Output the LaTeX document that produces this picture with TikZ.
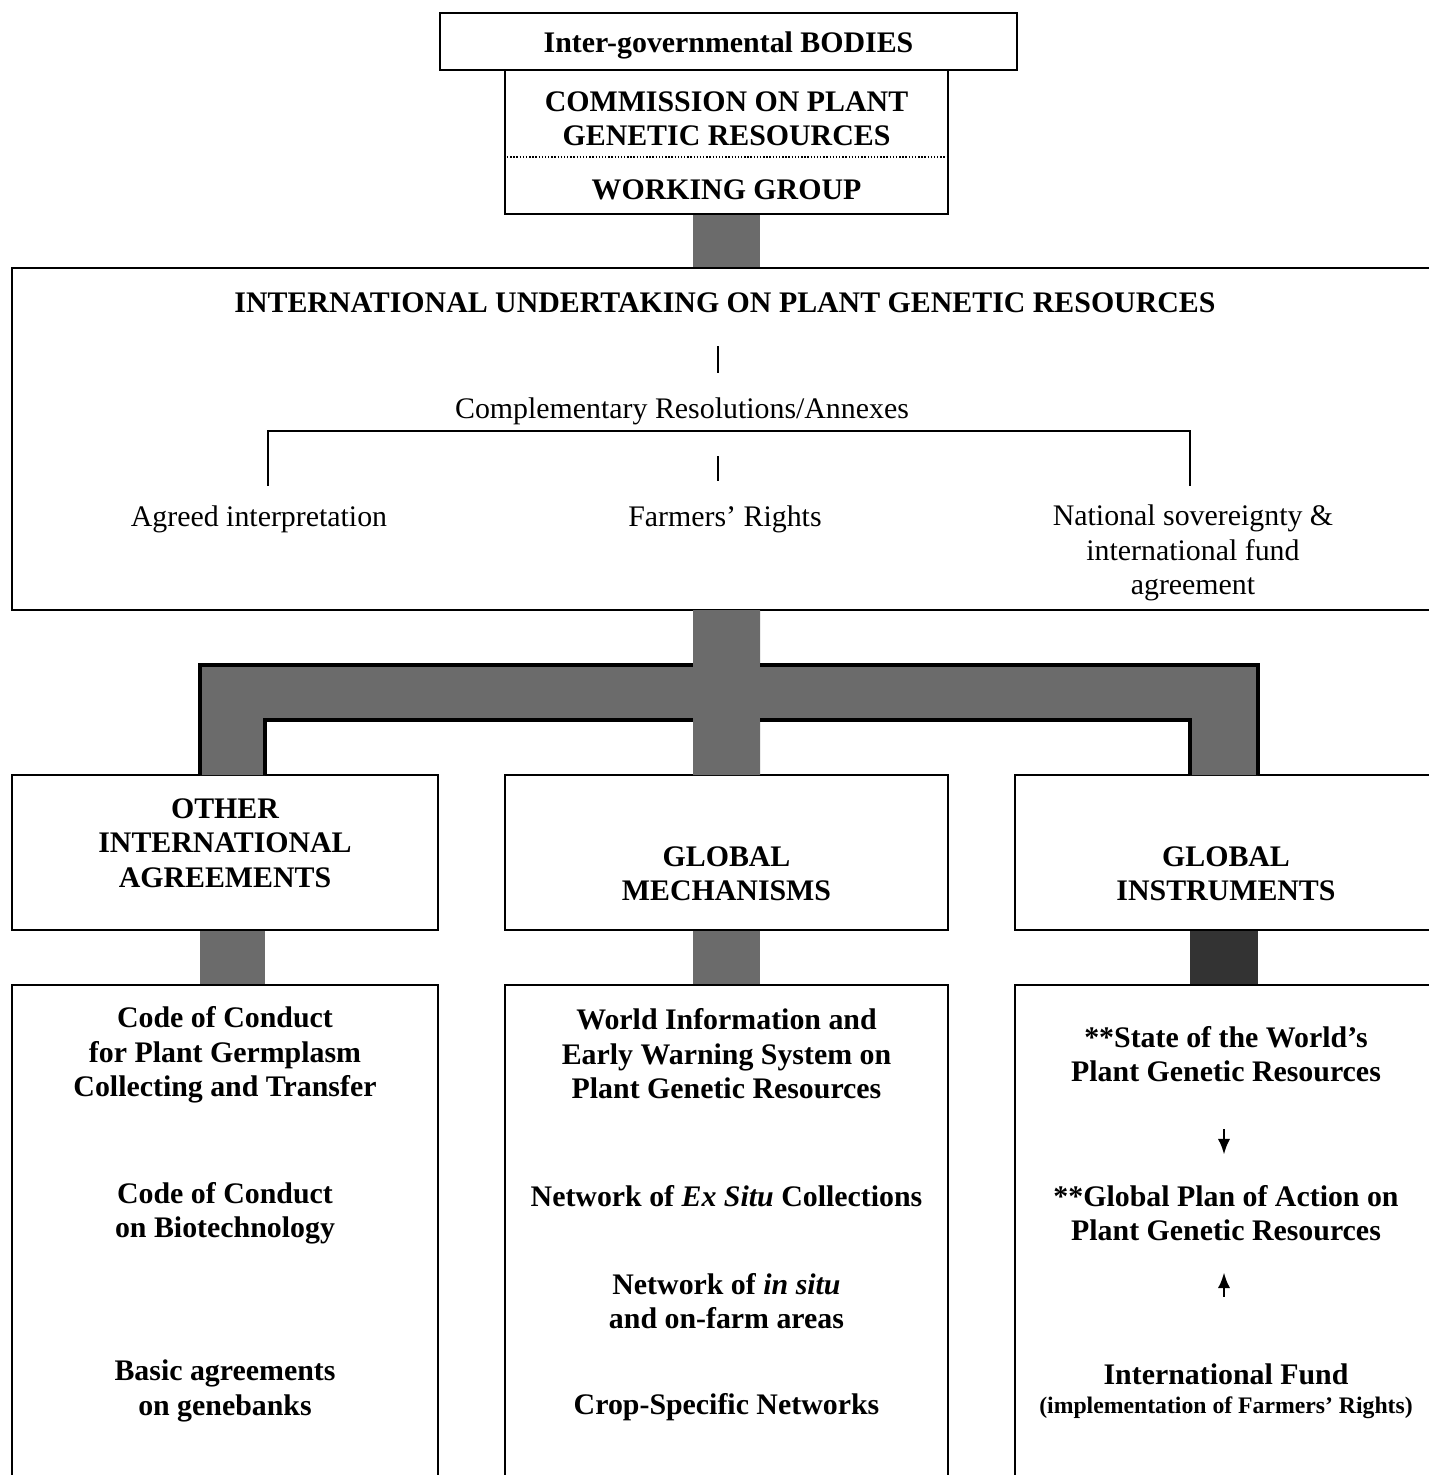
\documentclass[tikz,border=0pt]{standalone}
\usepackage{fontspec}
\setmainfont{Liberation Serif}
\usetikzlibrary{arrows.meta,positioning}

\tikzset{
  box/.style={draw, line width=1.4pt, inner sep=0pt},
  bold/.style={font=\fontsize{17}{19.6}\selectfont\bfseries, align=center, inner sep=0pt},
  plain/.style={font=\fontsize{17}{19.6}\selectfont, align=center, inner sep=0pt},
  small/.style={font=\fontsize{13.5}{16}\selectfont\bfseries, align=center, inner sep=0pt},
  link/.style={fill=black!58},
  tree/.style={line width=1.2pt},
  tip/.style={-{Latex[length=9pt,width=7pt]}, line width=1.6pt},
}

\begin{document}
\begin{tikzpicture}[x=0.02cm, y=-0.02cm]
    \useasboundingbox (0,0) rectangle (1429,1475);
    \clip (0,0) rectangle (1429,1475);

    % Draw the top boxes
    \node[box, minimum width=11.54cm, minimum height=1.14cm] (bodies) at (728.5,41.5) {};
    \node[bold] (bodiestxt) at (728.5,45) {Inter-governmental BODIES};
    \node[box, minimum width=8.86cm, minimum height=2.88cm] (commission) at (726.5,142) {};
    \draw[densely dotted, line width=0.8pt] (commission.west |- 0,157) -- (commission.east |- 0,157);
    \node[bold] (cpgr) at (726.5,119) {COMMISSION ON PLANT\\GENETIC RESOURCES};
    \node[bold] (wg) at (726.5,190) {WORKING GROUP};

    % Draw the undertaking box
    \node[box, minimum width=28.96cm, minimum height=6.84cm] (undertaking) at (736,439) {};
    \fill[link] ([xshift=-0.67cm]commission.south) rectangle ([xshift=0.67cm]undertaking.north -| commission.south);

    \node[bold] (title) at (725,303) {INTERNATIONAL UNDERTAKING ON PLANT GENETIC RESOURCES};
    \node[plain] (compl) at (682,411) {Complementary Resolutions/Annexes};
    \node[plain] (agreed) at (259,519) {Agreed interpretation};
    \node[plain] (farmers) at (725,519) {Farmers' Rights};
    \node[plain] (national) at (1193,553) {National sovereignty \&\\international fund\\agreement};

    % Draw the annex bracket
    \coordinate (fork) at (718,431);
    \coordinate (brL) at (268,431);
    \coordinate (brR) at (1190,431);
    \draw[tree, shorten <=0.66cm, shorten >=0.49cm] (title.south -| fork) -- (compl.north -| fork);
    \draw[tree, shorten <=0.63cm, shorten >=0.49cm] (compl.south -| fork) -- (farmers.north -| fork);
    \draw[tree] ([yshift=0.39cm]brL |- agreed.north) -- (brL) -- (brR) -- ([yshift=0.38cm]brR |- national.north);

    % Draw the second row
    \node[box, minimum width=8.52cm, minimum height=3.1cm] (other) at (225,852.5) {};
    \node[box, minimum width=8.86cm, minimum height=3.1cm] (mech) at (726.5,852.5) {};
    \node[box, minimum width=8.9cm, minimum height=3.1cm] (instr) at (1237.5,852.5) {};
    \node[bold] (othertxt) at (225,843) {OTHER\\INTERNATIONAL\\AGREEMENTS};
    \node[bold] (mechtxt) at (726.5,874) {GLOBAL\\MECHANISMS};
    \node[bold] (instrtxt) at (1226,874) {GLOBAL\\INSTRUMENTS};

    % Draw the shaded distributor
    \fill[link] (200,775) -- (200,665) -- (693,665) -- (693,610) -- (760,610) -- (760,665)
        -- (1258,665) -- (1258,775) -- (1190,775) -- (1190,720) -- (760,720) -- (760,775)
        -- (693,775) -- (693,720) -- (265,720) -- (265,775) -- cycle;
    \draw[line width=2pt] (200,775) -- (200,665) -- (693,665);
    \draw[line width=2pt] (760,665) -- (1258,665) -- (1258,775);
    \draw[line width=2pt] (265,775) -- (265,720) -- (693,720);
    \draw[line width=2pt] (760,720) -- (1190,720) -- (1190,775);

    % Draw the third row
    \node[box, minimum width=8.52cm, minimum height=10.3cm] (codes) at (225,1242.5) {};
    \node[box, minimum width=8.86cm, minimum height=10.3cm] (systems) at (726.5,1242.5) {};
    \node[box, minimum width=8.9cm, minimum height=10.3cm] (plans) at (1237.5,1242.5) {};

    \fill[link] (other.south -| 200,0) rectangle (codes.north -| 265,0);
    \fill[link] (mech.south -| 693,0) rectangle (systems.north -| 760,0);
    \fill[link, fill=black!80] (instr.south -| 1190,0) rectangle (plans.north -| 1258,0);

    \node[bold] (germ) at (225,1055) {Code of Conduct\\for Plant Germplasm\\Collecting and Transfer};
    \node[bold] (biotech) at (225,1213) {Code of Conduct\\on Biotechnology};
    \node[bold] (genebanks) at (225,1391) {Basic agreements\\on genebanks};

    \node[bold] (wiews) at (726.5,1054) {World Information and\\Early Warning System on\\Plant Genetic Resources};
    \node[bold] (exsitu) at (726.5,1196) {Network of \textit{Ex Situ} Collections};
    \node[bold] (insitu) at (726.5,1301) {Network of \textit{in situ}\\and on-farm areas};
    \node[bold] (crops) at (726.5,1407) {Crop-Specific Networks};

    \node[bold] (state) at (1226,1054) {**State of the World's\\Plant Genetic Resources};
    \node[bold] (gplan) at (1226,1213) {**Global Plan of Action on\\Plant Genetic Resources};
    \node[bold] (fund) at (1226,1374) {International Fund};
    \node[small] (impl) at (1226,1408) {(implementation of Farmers' Rights)};

    % Draw the small arrows
    \draw[tip, shorten <=0.94cm, shorten >=0.6cm] (state.south -| 1224,0) -- (gplan.north -| 1224,0);
    \draw[tip, shorten <=1.33cm, shorten >=0.62cm] (fund.north -| 1224,0) -- (gplan.south -| 1224,0);
\end{tikzpicture}
\end{document}
